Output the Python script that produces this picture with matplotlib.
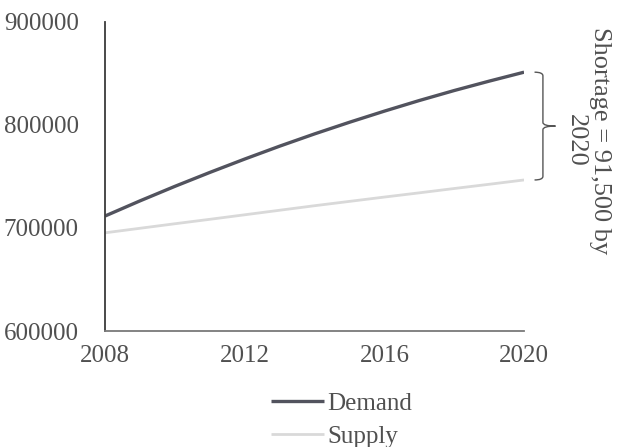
import matplotlib
matplotlib.use("Agg")
import matplotlib.pyplot as plt
from matplotlib.path import Path
from matplotlib.patches import PathPatch

years = [2008, 2009, 2010, 2011, 2012, 2013, 2014, 2015, 2016, 2017, 2018, 2019, 2020]
demand = [711600, 726300, 740400, 753900, 766900, 779400, 791300, 802600, 813400, 823700, 833400, 842500, 851200]
supply = [695300, 699700, 704100, 708400, 712800, 717200, 721600, 725800, 730000, 734100, 738300, 742400, 746600]
xticks = [2008, 2012, 2016, 2020]
yticks = [600000, 700000, 800000, 900000]
annotation = "Shortage = 91,500 by\n2020"

plt.rcParams['font.family'] = ['Liberation Serif', 'DejaVu Serif']
txt = '#505050'

fig = plt.figure(figsize=(6.18, 4.47), dpi=100)
ax = fig.add_axes([0.170, 0.2595, 0.678, 0.6915])

ax.plot(years, demand, color='#52535e', lw=2.4, label='Demand', solid_capstyle='butt')
ax.plot(years, supply, color='#d9d9d9', lw=2.0, label='Supply', solid_capstyle='butt')

ax.set_xlim(2008, 2020)
ax.set_ylim(600000, 900000)
ax.set_xticks(xticks)
ax.set_yticks(yticks)
ax.set_yticklabels([str(v) for v in yticks])
ax.tick_params(axis='both', length=0, labelsize=18, colors=txt)
ax.tick_params(axis='y', pad=19)
ax.tick_params(axis='x', pad=10)
for s in ['top', 'right']:
    ax.spines[s].set_visible(False)
ax.spines['left'].set_color('#3c3c3c')
ax.spines['left'].set_linewidth(1.3)
ax.spines['bottom'].set_color('#7a7a7a')
ax.spines['bottom'].set_linewidth(1.3)

# brace annotation between end values
x0 = years[-1] + 0.54
xl = years[-1] + 0.30
x1 = years[-1] + 0.90
top = demand[-1]
bot = supply[-1]
mid = (top + bot) / 2
h = 3500
verts = [
    (xl, top), (x0, top), (x0, top - h),
    (x0, mid + h), (x0, mid), (x1, mid),
    (x0, mid), (x0, mid - h),
    (x0, bot + h), (x0, bot), (xl, bot),
]
codes = [Path.MOVETO, Path.CURVE3, Path.CURVE3,
         Path.LINETO, Path.CURVE3, Path.CURVE3,
         Path.CURVE3, Path.CURVE3,
         Path.LINETO, Path.CURVE3, Path.CURVE3]
brace = PathPatch(Path(verts, codes), fill=False, edgecolor='#555555', lw=1.0,
                  transform=ax.transData, clip_on=False)
ax.add_patch(brace)

fig.text(0.951, 0.685, annotation, rotation=-90, ha='center', va='center',
         multialignment='center', fontsize=19, color=txt, linespacing=1.1)

leg = fig.legend(loc='center', bbox_to_anchor=(0.553, 0.060), ncol=1, frameon=False,
                 fontsize=18, handlelength=2.1, handletextpad=0.15, labelspacing=0.42,
                 labelcolor=txt)

fig.savefig('out.png', dpi=100)
